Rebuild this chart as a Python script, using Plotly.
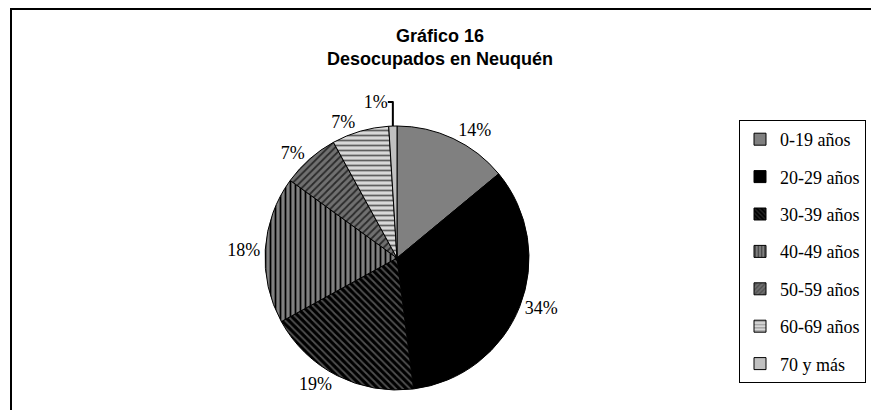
import plotly.graph_objects as go

labels = ["0-19 años", "20-29 años", "30-39 años", "40-49 años", "50-59 años", "60-69 años", "70 y más"]
values = [14, 34, 19, 18, 7, 7, 1]

bg_colors = ["#808080", "#000000", "#000000", "#808080", "#707070", "#d8d8d8", "#c0c0c0"]
fg_colors = ["#000000", "#000000", "#505050", "#000000", "#2a2a2a", "#606060", "#000000"]
shapes = ["", "", "\\", "|", "/", "-", ""]

W, H = 879, 410
OFF = 8  # page body offset in the browser
serif = "Liberation Serif, Times New Roman, serif"


def px(x):
    return (x - OFF) / W


def py(y):
    return 1 - (y - OFF) / H


fig = go.Figure()
fig.add_trace(go.Pie(
    labels=labels,
    values=values,
    sort=False,
    direction="clockwise",
    rotation=0,
    texttemplate="%{value}%",
    textposition="outside",
    textfont=dict(family=serif, size=18, color="black"),
    marker=dict(
        colors=bg_colors,
        line=dict(color="black", width=1),
        pattern=dict(shape=shapes, fgcolor=fg_colors, bgcolor=bg_colors, size=5, solidity=0.35, fillmode="replace"),
    ),
    domain=dict(x=[px(397 - 135), px(397 + 135)], y=[py(390), py(126)]),
    hoverinfo="label+percent",
    showlegend=False,
))

# legend entries (one per slice, same styles as the pie)
for lab, bg, fg, sh in zip(labels, bg_colors, fg_colors, shapes):
    fig.add_trace(go.Bar(
        x=[None], y=[None], name=lab, legendgroup=lab,
        marker=dict(color=bg, line=dict(color="black", width=1),
                    pattern=dict(shape=sh, fgcolor=fg, bgcolor=bg, size=4, solidity=0.4)),
        showlegend=True, hoverinfo="skip",
    ))

fig.update_layout(
    width=W, height=H,
    margin=dict(l=0, r=0, t=0, b=0),
    paper_bgcolor="white",
    plot_bgcolor="white",
    xaxis=dict(visible=False),
    yaxis=dict(visible=False),
    title=dict(
        text="<b>Gráfico 16<br>Desocupados en Neuquén</b>",
        x=px(440), xanchor="center",
        y=py(42), yanchor="top",
        font=dict(family="Liberation Sans, Arial, sans-serif", size=18, color="black"),
    ),
    legend=dict(
        x=px(739), xanchor="left",
        y=py(120), yanchor="top",
        bordercolor="black", borderwidth=1,
        bgcolor="white",
        tracegroupgap=11,
        font=dict(family=serif, size=18, color="black"),
    ),
    shapes=[dict(
        type="rect", xref="paper", yref="paper",
        x0=px(11), x1=1.02, y0=-0.05, y1=py(9),
        line=dict(color="black", width=2), fillcolor="rgba(0,0,0,0)",
    )],
    showlegend=True,
)

fig.write_html("out.html")
